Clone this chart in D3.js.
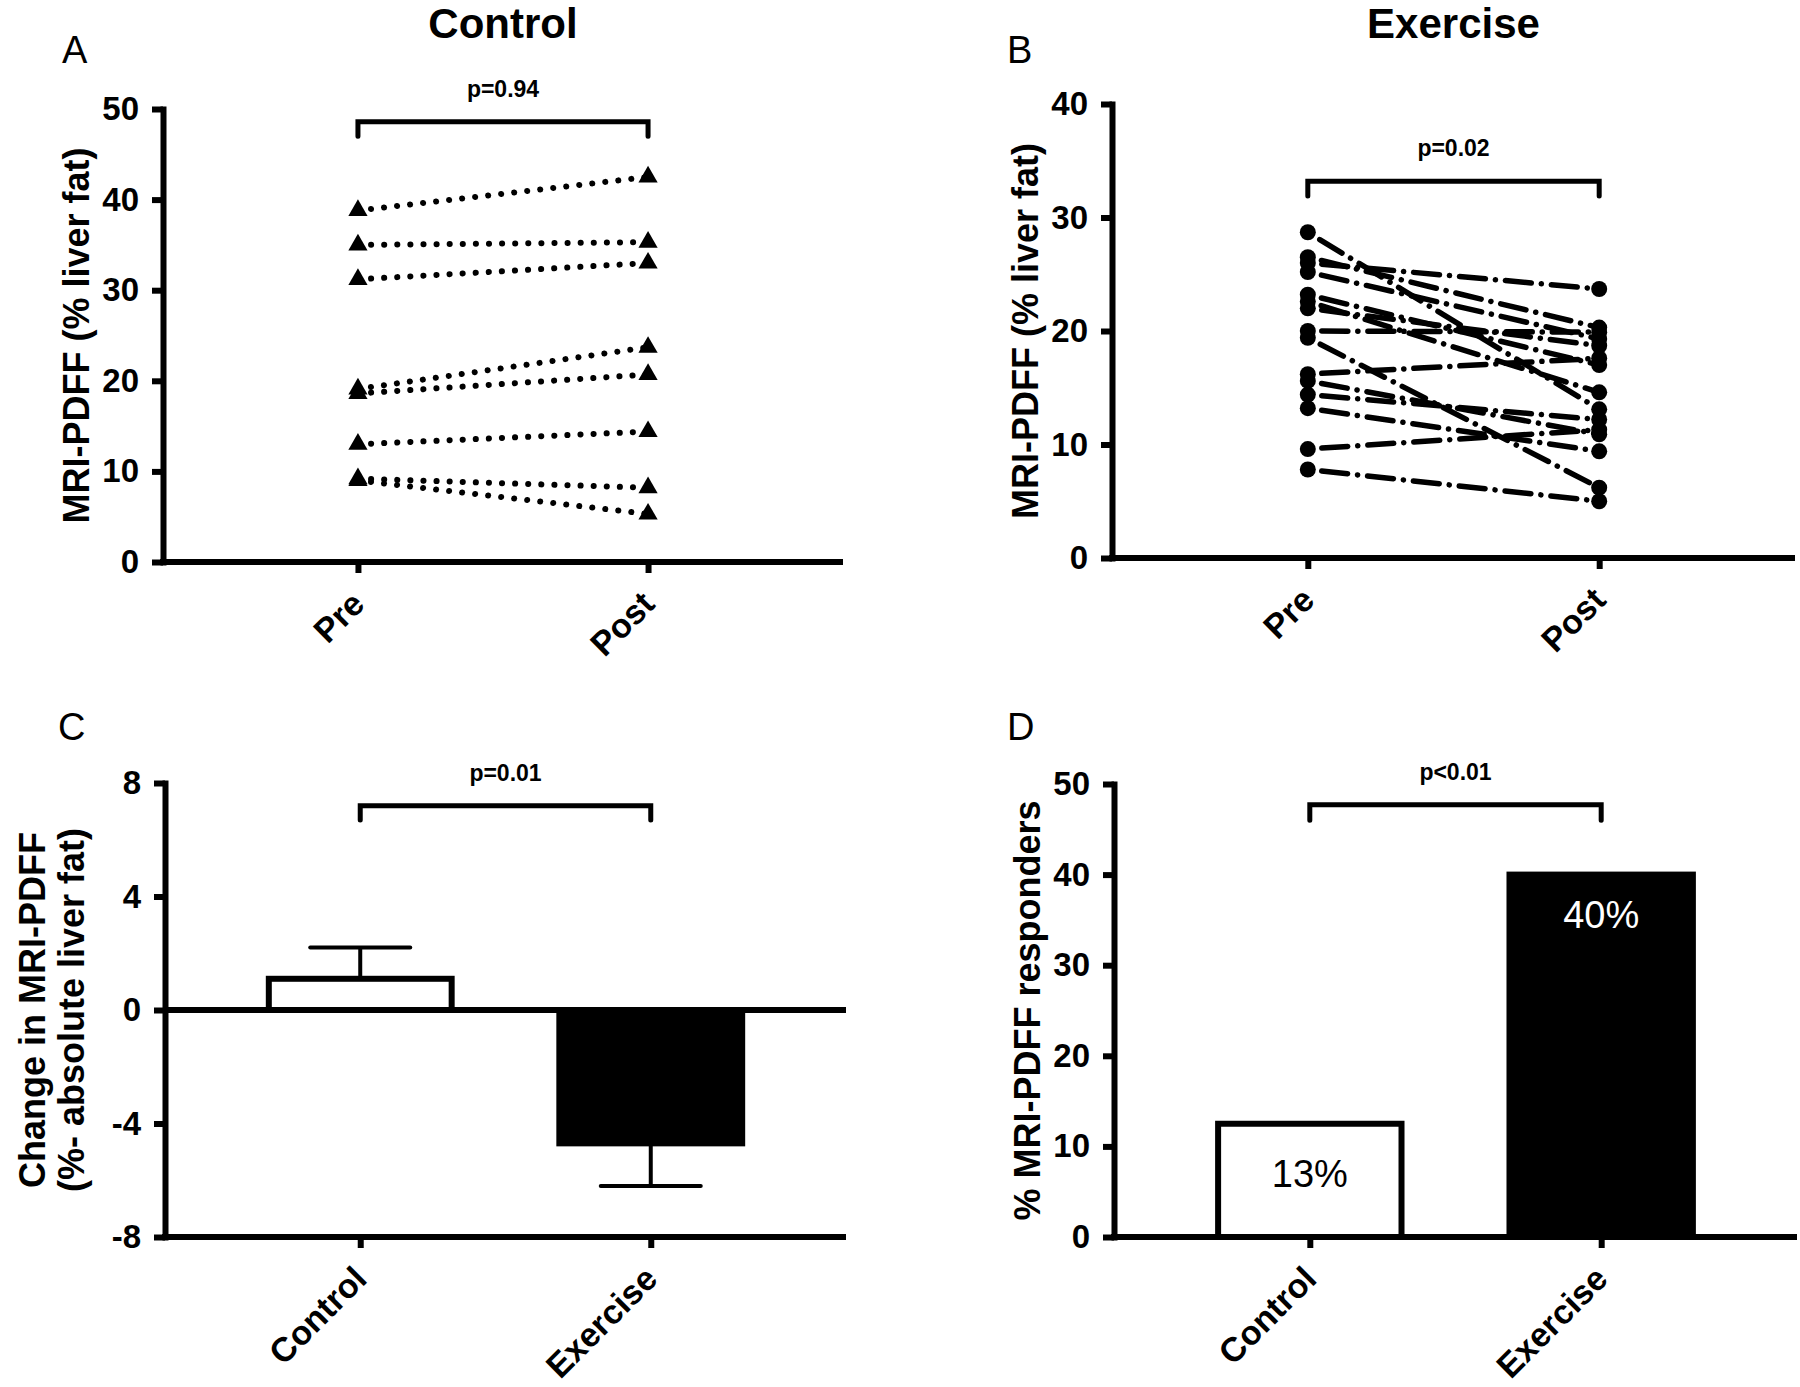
<!DOCTYPE html>
<html><head><meta charset="utf-8">
<script src="https://cdn.jsdelivr.net/npm/d3@7"></script>
<style>
body{margin:0;background:#fff}
svg{display:block}
text{font-family:"Liberation Sans",Arial,Helvetica,sans-serif}
</style>
</head><body>
<svg id="chart" width="1800" height="1387"></svg>
<script>
// ---------------- data ----------------
const timepoints = ["Pre", "Post"];
const controlPre  = [38.8, 35.0, 31.2, 19.1, 18.6, 13.0, 9.2, 9.0];
const controlPost = [42.5, 35.3, 33.0, 23.7, 20.7, 14.4, 8.2, 5.3];
const exercisePre  = [28.7, 26.5, 26.0, 25.2, 23.2, 22.6, 22.0, 20.0, 19.4, 16.2, 15.6, 14.4, 13.2, 9.6, 7.8];
const exercisePost = [13.1, 20.3, 23.7, 19.3, 17.0, 14.6, 18.7, 19.9, 6.2, 17.6, 10.9, 12.2, 9.4, 11.3, 5.0];
const groups = ["Control", "Exercise"];
const changeMean = [1.1, -4.7];
const changeSEM  = [1.1, 1.5];
const responders = [12.5, 40];
const responderLabels = ["13%", "40%"];
const pLabels = ["p=0.94", "p=0.02", "p=0.01", "p<0.01"];
const bracketLevels = [48.6, 33.2, 7.2, 47.7];
const bracketDrops  = [47.0, 31.9, 6.7, 46.0];
const ticksA = [0, 10, 20, 30, 40, 50];
const ticksB = [0, 10, 20, 30, 40];
const ticksC = [-8, -4, 0, 4, 8];
const ticksD = [0, 10, 20, 30, 40, 50];
const panelTitles = ["Control", "Exercise"];
const panelLetters = ["A", "B", "C", "D"];
const yTitles = ["MRI-PDFF (% liver fat)", "MRI-PDFF (% liver fat)",
                 ["Change in MRI-PDFF", "(%- absolute liver fat)"], "% MRI-PDFF responders"];

// ---------------- layout ----------------
const svg = d3.select("#chart");
svg.append("rect").attr("width", 1800).attr("height", 1387).attr("fill", "#fff");

const layout = [
  {x0: 163,  x1: 843,  yTop: 109, yBot: 562,  domain: [0, 50], ticks: ticksA, cats: timepoints, axisY: 562},
  {x0: 1112, x1: 1795, yTop: 104, yBot: 558,  domain: [0, 40], ticks: ticksB, cats: timepoints, axisY: 558},
  {x0: 165,  x1: 846,  yTop: 783, yBot: 1237, domain: [-8, 8], ticks: ticksC, cats: groups, axisY: 1237},
  {x0: 1114, x1: 1797, yTop: 784, yBot: 1237, domain: [0, 50], ticks: ticksD, cats: groups, axisY: 1237}
];

const AX_W = 6;
const FONT = '"Liberation Sans",Arial,sans-serif';
function makePanel(i) {
  const L = layout[i];
  const g = svg.append("g");
  const x = d3.scalePoint().domain(L.cats).range([L.x0, L.x1]).padding(0.672);
  const y = d3.scaleLinear().domain(L.domain).range([L.yBot, L.yTop]);
  return {g, x, y, L};
}

function drawAxes(P) {
  const {g, x, y, L} = P;
  const ya = g.append("g").attr("transform", `translate(${L.x0},0)`)
    .call(d3.axisLeft(y).tickValues(L.ticks).tickFormat(d => String(d)).tickSize(11).tickSizeOuter(0).tickPadding(13));
  ya.select(".domain").attr("stroke-width", AX_W).attr("stroke-linecap", "square");
  ya.selectAll(".tick line").attr("stroke-width", AX_W);
  ya.selectAll(".tick text").attr("font-size", 33).attr("font-weight", "bold").attr("fill", "#000")
    .style("font-family", FONT);

  const xa = g.append("g").attr("transform", `translate(0,${L.axisY})`)
    .call(d3.axisBottom(x).tickSize(11).tickSizeOuter(0));
  xa.select(".domain").attr("stroke-width", AX_W).attr("d", `M${L.x0 - AX_W/2},0H${L.x1}`);
  xa.selectAll(".tick line").attr("stroke-width", AX_W);
  xa.selectAll(".tick text")
    .attr("x", 0).attr("y", 0).attr("dy", 0)
    .attr("transform", "translate(8,44) rotate(-45)")
    .attr("text-anchor", "end")
    .attr("font-size", 34).attr("font-weight", "bold").attr("fill", "#000")
    .style("font-family", FONT);
}

function drawBracket(P, i) {
  const {g, x, y, L} = P;
  const xa = x(L.cats[0]), xb = x(L.cats[1]);
  const yl = y(bracketLevels[i]), yd = y(bracketDrops[i]);
  g.append("path")
    .attr("d", `M${xa},${yd}V${yl}H${xb}V${yd}`)
    .attr("fill", "none").attr("stroke", "#000").attr("stroke-width", 5)
    .attr("stroke-linejoin", "miter").attr("stroke-linecap", "round");
  g.append("text")
    .attr("x", (xa + xb) / 2).attr("y", yl - 25)
    .attr("text-anchor", "middle").attr("font-size", 23).attr("font-weight", "bold")
    .text(pLabels[i]);
}

function drawYTitle(P, i, baselineX) {
  const {g, L} = P;
  const cy = (L.yTop + L.yBot) / 2;
  const t = yTitles[i];
  const lines = Array.isArray(t) ? t : [t];
  lines.forEach((s, k) => {
    g.append("text")
      .attr("transform", `translate(${baselineX[k]},${cy}) rotate(-90)`)
      .attr("text-anchor", "middle").attr("font-size", 36).attr("font-weight", "bold")
      .text(s);
  });
}

// ---------- Panel A ----------
const PA = makePanel(0);
{
  const {g, x, y} = PA;
  const pairs = controlPre.map((v, k) => [v, controlPost[k]]);
  g.append("g").selectAll("line").data(pairs).join("line")
    .attr("x1", x("Pre")).attr("x2", x("Post"))
    .attr("y1", d => y(d[0])).attr("y2", d => y(d[1]))
    .attr("stroke", "#000").attr("stroke-width", 6)
    .attr("stroke-linecap", "round").attr("stroke-dasharray", "0.1 13");
  const tri = d3.symbol().type(d3.symbolTriangle).size(160);
  const pts = [];
  pairs.forEach(d => { pts.push([x("Pre"), y(d[0])]); pts.push([x("Post"), y(d[1])]); });
  g.append("g").selectAll("path").data(pts).join("path")
    .attr("d", tri).attr("transform", d => `translate(${d[0]},${d[1]})`).attr("fill", "#000");
}
drawAxes(PA);
drawBracket(PA, 0);
drawYTitle(PA, 0, [89]);

// ---------- Panel B ----------
const PB = makePanel(1);
{
  const {g, x, y} = PB;
  const pairs = exercisePre.map((v, k) => [v, exercisePost[k]]);
  g.append("g").selectAll("line").data(pairs).join("line")
    .attr("x1", x("Pre")).attr("x2", x("Post"))
    .attr("y1", d => y(d[0])).attr("y2", d => y(d[1]))
    .attr("stroke", "#000").attr("stroke-width", 5.5)
    .attr("stroke-linecap", "round").attr("stroke-dasharray", "26 10 0.1 10")
    .attr("stroke-dashoffset", -14);
  const pts = [];
  pairs.forEach(d => { pts.push([x("Pre"), y(d[0])]); pts.push([x("Post"), y(d[1])]); });
  g.append("g").selectAll("circle").data(pts).join("circle")
    .attr("cx", d => d[0]).attr("cy", d => d[1]).attr("r", 8).attr("fill", "#000");
}
drawAxes(PB);
drawBracket(PB, 1);
drawYTitle(PB, 1, [1038]);

// ---------- Panel C ----------
const PC = makePanel(2);
{
  const {g, x, y, L} = PC;
  const bw = x.step() * 0.65 - 6;
  g.append("line").attr("x1", L.x0).attr("x2", L.x1).attr("y1", y(0)).attr("y2", y(0))
    .attr("stroke", "#000").attr("stroke-width", AX_W);
  g.append("g").selectAll("g").data(groups).join("g").each(function(d, k) {
    const s = d3.select(this);
    const m = changeMean[k], e = m + Math.sign(m) * changeSEM[k];
    s.append("line").attr("x1", x(d)).attr("x2", x(d)).attr("y1", y(m)).attr("y2", y(e))
      .attr("stroke", "#000").attr("stroke-width", 4);
    s.append("line").attr("x1", x(d) - 50).attr("x2", x(d) + 50).attr("y1", y(e)).attr("y2", y(e))
      .attr("stroke", "#000").attr("stroke-width", 4).attr("stroke-linecap", "round");
  });
  g.append("g").selectAll("rect").data(groups).join("rect")
    .attr("x", d => x(d) - bw / 2).attr("width", bw)
    .attr("y", (d, k) => Math.min(y(changeMean[k]), y(0)))
    .attr("height", (d, k) => Math.abs(y(changeMean[k]) - y(0)))
    .attr("fill", (d, k) => k === 0 ? "#fff" : "#000")
    .attr("stroke", "#000").attr("stroke-width", 6);
}
drawAxes(PC);
drawBracket(PC, 2);
drawYTitle(PC, 2, [45, 84]);

// ---------- Panel D ----------
const PD = makePanel(3);
{
  const {g, x, y} = PD;
  const bw = x.step() * 0.65 - 6;
  g.append("g").selectAll("rect").data(groups).join("rect")
    .attr("x", d => x(d) - bw / 2).attr("width", bw)
    .attr("y", (d, k) => y(responders[k]))
    .attr("height", (d, k) => y(0) - y(responders[k]))
    .attr("fill", (d, k) => k === 0 ? "#fff" : "#000")
    .attr("stroke", "#000").attr("stroke-width", 6);
  g.append("text").attr("x", x(groups[0])).attr("y", 1187)
    .attr("text-anchor", "middle").attr("font-size", 38).attr("fill", "#000").text(responderLabels[0]);
  g.append("text").attr("x", x(groups[1])).attr("y", 928)
    .attr("text-anchor", "middle").attr("font-size", 38).attr("fill", "#fff").text(responderLabels[1]);
}
drawAxes(PD);
drawBracket(PD, 3);
drawYTitle(PD, 3, [1040]);

// ---------- titles & letters ----------
svg.append("text").attr("x", (PA.x(timepoints[0]) + PA.x(timepoints[1])) / 2).attr("y", 38)
  .attr("text-anchor", "middle").attr("font-size", 42).attr("font-weight", "bold").text(panelTitles[0]);
svg.append("text").attr("x", (PB.x(timepoints[0]) + PB.x(timepoints[1])) / 2).attr("y", 38)
  .attr("text-anchor", "middle").attr("font-size", 42).attr("font-weight", "bold").text(panelTitles[1]);
const letterPos = [[62, 63], [1007, 63], [58, 740], [1007, 740]];
panelLetters.forEach((s, k) => {
  svg.append("text").attr("x", letterPos[k][0]).attr("y", letterPos[k][1])
    .attr("font-size", 38).text(s);
});
</script>
</body></html>
